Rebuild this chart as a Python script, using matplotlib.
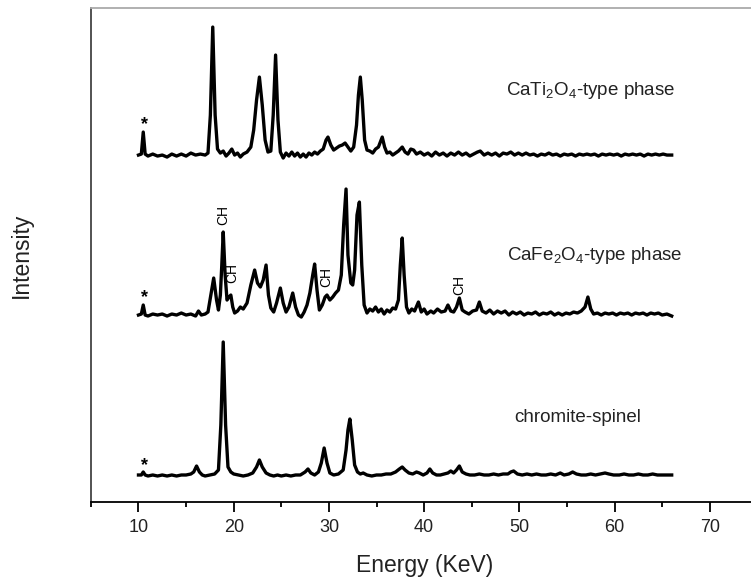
import numpy as np
import matplotlib.pyplot as plt

plt.rcParams['font.family'] = ['Liberation Sans', 'DejaVu Sans']
plt.rcParams['mathtext.fontset'] = 'custom'
plt.rcParams['mathtext.rm'] = 'Liberation Sans'
plt.rcParams['mathtext.it'] = 'Liberation Sans'

# chromite-spinel spectrum (energy keV, intensity above its baseline)
chromite_E = [10.0, 10.3, 10.5, 10.7, 11.0, 11.5, 12.0, 12.5, 13.0, 13.5, 14.0, 14.5, 15.0, 15.5, 15.8, 16.1,
              16.4, 16.7, 17.0, 17.5, 18.0, 18.4, 18.65, 18.9, 19.15, 19.4, 19.7, 20.0, 20.5, 21.0, 21.5, 22.0,
              22.4, 22.7, 23.0, 23.4, 23.8, 24.2, 24.6, 25.0, 25.5, 26.0, 26.5, 27.0, 27.5, 27.8, 28.1, 28.5,
              28.9, 29.2, 29.5, 29.8, 30.1, 30.5, 31.0, 31.5, 31.8, 32.0, 32.2, 32.45, 32.7, 33.0, 33.3, 33.6,
              34.0, 34.5, 35.0, 35.5, 36.0, 36.5, 37.0, 37.4, 37.7, 38.0, 38.4, 38.8, 39.2, 39.5, 39.9, 40.3,
              40.6, 40.9, 41.3, 41.7, 42.1, 42.5, 42.8, 43.1, 43.4, 43.7, 44.0, 44.4, 44.8, 45.3, 45.8, 46.3,
              46.8, 47.3, 47.8, 48.3, 48.8, 49.1, 49.4, 49.8, 50.3, 50.8, 51.3, 51.8, 52.3, 52.8, 53.3, 53.8,
              54.3, 54.7, 55.2, 55.6, 56.0, 56.5, 57.0, 57.5, 58.0, 58.5, 59.0, 59.4, 59.9, 60.5, 61.0, 61.5,
              62.0, 62.5, 63.0, 63.5, 64.0, 64.5, 65.0, 65.5, 66.0]
chromite_I = [0, 0, 3, 0, -1, 0, -1, 0, -1, 0, -1, 0, 0, 1, 3, 9,
              3, 0, -1, 0, 1, 5, 50, 133, 50, 8, 3, 1, 0, -1, 0, 2,
              8, 15, 8, 2, 0, -1, 0, -1, 0, -1, 0, 0, 3, 6, 2, 0,
              3, 12, 27, 12, 2, 0, 1, 5, 25, 45, 56, 35, 10, 3, 1, 2,
              0, -1, 0, 0, 1, 1, 3, 6, 8, 5, 2, 1, 3, 2, 0, 2,
              6, 2, 0, 0, 1, 2, 4, 2, 5, 9, 3, 1, 0, 0, 1, 0,
              0, 1, 0, 1, 1, 3, 4, 1, 0, 1, 0, 1, 0, 0, 1, 0,
              2, 0, 1, 3, 1, 0, 0, 1, 0, 1, 2, 1, 0, 0, 1, 0,
              0, 1, 0, 0, 1, 0, 0, 0, 0]

# CaFe2O4-type phase spectrum
cafe_E = [10.0, 10.3, 10.5, 10.7, 11.0, 11.5, 12.0, 12.5, 13.0, 13.5, 14.0, 14.5, 15.0, 15.5, 16.0, 16.3,
          16.6, 17.0, 17.3, 17.6, 17.9, 18.2, 18.4, 18.6, 18.75, 18.9, 19.1, 19.3, 19.5, 19.7, 19.9, 20.1,
          20.4, 20.7, 21.0, 21.4, 21.8, 22.2, 22.5, 22.8, 23.1, 23.4, 23.65, 23.9, 24.2, 24.5, 24.9, 25.2,
          25.5, 25.8, 26.2, 26.5, 26.8, 27.1, 27.4, 27.7, 28.0, 28.3, 28.5, 28.75, 29.0, 29.3, 29.6, 29.8,
          30.1, 30.4, 30.7, 31.0, 31.3, 31.55, 31.8, 32.0, 32.3, 32.5, 32.7, 32.95, 33.2, 33.45, 33.7, 34.0,
          34.3, 34.6, 34.9, 35.2, 35.5, 35.8, 36.1, 36.4, 36.7, 37.0, 37.3, 37.5, 37.7, 37.9, 38.15, 38.4,
          38.7, 39.0, 39.4, 39.7, 40.0, 40.3, 40.7, 41.0, 41.4, 41.8, 42.2, 42.5, 42.8, 43.1, 43.4, 43.7,
          44.0, 44.3, 44.7, 45.1, 45.5, 45.8, 46.1, 46.5, 46.9, 47.3, 47.7, 48.1, 48.5, 48.9, 49.3, 49.7,
          50.1, 50.5, 50.9, 51.3, 51.7, 52.1, 52.5, 52.9, 53.3, 53.7, 54.1, 54.5, 54.9, 55.3, 55.7, 56.1,
          56.5, 56.9, 57.2, 57.5, 57.8, 58.2, 58.6, 59.0, 59.4, 59.8, 60.2, 60.6, 61.0, 61.4, 61.8, 62.2,
          62.6, 63.0, 63.4, 63.8, 64.2, 64.6, 65.0, 65.5, 66.0]
cafe_I = [0, 1, 10, 0, -1, 1, 0, 1, -1, 1, 0, 2, 0, 1, -1, 4,
          0, 1, 3, 20, 37, 15, 5, 20, 50, 83, 40, 15, 18, 20, 8, 2,
          4, 8, 6, 12, 30, 45, 32, 28, 35, 50, 20, 7, 3, 12, 27, 12,
          3, 8, 22, 8, 0, -2, 3, 10, 22, 40, 51, 25, 5, 10, 18, 20,
          15, 18, 22, 25, 40, 90, 126, 60, 32, 30, 45, 100, 113, 50, 10, 2,
          6, 4, 8, 3, 6, 1, 5, 3, 7, 6, 15, 50, 77, 40, 8, 2,
          6, 4, 13, 3, 6, 1, 4, 2, 6, 3, 4, 10, 4, 3, 8, 17,
          5, 3, 1, 4, 5, 13, 4, 2, 5, 1, 4, 2, 4, 0, 3, 1,
          3, 0, 2, 1, 3, 0, 2, 1, 3, 0, 2, 0, 2, 1, 3, 2,
          4, 8, 18, 6, 1, 2, 0, 2, 1, 2, 0, 2, 1, 2, 0, 2,
          1, 2, 0, 2, 1, 2, 0, 1, -1]

# CaTi2O4-type phase spectrum
cati_E = [10.0, 10.3, 10.5, 10.7, 11.0, 11.5, 12.0, 12.5, 13.0, 13.5, 14.0, 14.5, 15.0, 15.5, 16.0, 16.5,
          17.0, 17.3, 17.55, 17.8, 18.05, 18.3, 18.6, 18.9, 19.2, 19.5, 19.8, 20.1, 20.4, 20.7, 21.0, 21.4,
          21.8, 22.1, 22.4, 22.7, 23.0, 23.3, 23.6, 23.9, 24.15, 24.4, 24.65, 24.9, 25.2, 25.5, 25.8, 26.1,
          26.4, 26.7, 27.0, 27.3, 27.6, 27.9, 28.2, 28.5, 28.8, 29.1, 29.4, 29.7, 29.9, 30.2, 30.5, 30.8,
          31.1, 31.4, 31.7, 32.0, 32.3, 32.6, 32.9, 33.1, 33.3, 33.5, 33.75, 34.0, 34.3, 34.6, 34.9, 35.2,
          35.4, 35.6, 35.85, 36.1, 36.4, 36.7, 37.0, 37.3, 37.7, 38.0, 38.3, 38.6, 38.9, 39.2, 39.6, 40.0,
          40.4, 40.8, 41.2, 41.6, 42.0, 42.4, 42.8, 43.2, 43.6, 44.0, 44.4, 44.8, 45.2, 45.6, 45.9, 46.3,
          46.7, 47.1, 47.5, 47.9, 48.3, 48.7, 49.1, 49.5, 49.9, 50.3, 50.7, 51.1, 51.5, 51.9, 52.3, 52.7,
          53.1, 53.5, 53.9, 54.3, 54.7, 55.1, 55.5, 55.9, 56.3, 56.7, 57.1, 57.5, 57.9, 58.3, 58.7, 59.1,
          59.5, 59.9, 60.3, 60.7, 61.1, 61.5, 61.9, 62.3, 62.7, 63.1, 63.5, 63.9, 64.3, 64.7, 65.1, 65.5,
          66.0]
cati_I = [0, 1, 23, 1, -1, 1, -1, 0, -2, 1, -1, 1, -1, 2, 0, 1,
          0, 2, 40, 128, 40, 6, 2, 4, -1, 2, 6, 0, 2, -2, 1, 3,
          8, 25, 55, 78, 50, 15, 3, 4, 40, 100, 35, 3, -3, 2, -1, 3,
          -1, 2, -2, 1, -2, 2, 0, 3, 1, 4, 6, 15, 18, 10, 5, 7,
          9, 10, 12, 8, 4, 8, 30, 60, 78, 55, 15, 5, 4, 2, 6, 8,
          13, 18, 8, 2, 3, 0, 2, 4, 8, 3, 1, 6, 5, 1, 3, 0,
          2, -1, 3, 0, 2, -1, 2, 0, 3, 0, 2, -1, 1, 3, 4, 0,
          2, 0, 2, -1, 2, 1, 3, 0, 2, 0, 2, 0, 1, -1, 1, 0,
          2, 0, 1, -1, 1, 0, 1, -1, 1, 0, 1, 0, 1, -1, 1, 0,
          1, 0, 1, -1, 1, 0, 1, 0, 1, -1, 1, 0, 1, 0, 1, 0,
          0]

offsets = [27, 187, 347]
phase_names = ['chromite-spinel', r'CaFe$_2$O$_4$-type phase', r'CaTi$_2$O$_4$-type phase']
name_pos = [(49.5, 85), (48.7, 247), (48.6, 412)]
star_pos = [(10.6, 36), (10.6, 204), (10.6, 377)]
ch_pos = [(18.9, 287), (19.9, 229), (29.7, 225), (43.7, 217)]

fig = plt.figure(figsize=(7.51, 5.77), dpi=100)
ax = fig.add_axes([0.121, 0.130, 0.8875, 0.856])

spectra = [(chromite_E, chromite_I), (cafe_E, cafe_I), (cati_E, cati_I)]
for (E, I), off in zip(spectra, offsets):
    ax.plot(E, np.array(I) + off, color='black', lw=2.4, solid_joinstyle='round')

for name, (x, y) in zip(phase_names, name_pos):
    ax.text(x, y, name, fontsize=13.5, ha='left', va='center', color='#222222')
for x, y in star_pos:
    ax.text(x, y, '*', fontsize=13, ha='center', va='center', fontweight='bold')
for x, y in ch_pos:
    ax.text(x, y, 'CH', fontsize=10, rotation=90, ha='center', va='center')

ax.set_xlim(5, 75)
ax.set_ylim(0, 494)
ax.set_xticks(range(10, 71, 10))
ax.set_xticks(range(5, 76, 10), minor=True)
ax.set_yticks([])
ax.tick_params(axis='x', which='major', direction='out', length=7, width=1.3, pad=5, labelsize=13,
               labelcolor='#222222')
ax.tick_params(axis='x', which='minor', direction='out', length=3.5, width=1.3)
ax.spines['right'].set_visible(False)
ax.spines['top'].set_color('#aaaaaa')
ax.spines['left'].set_color('#444444')
for s in ['top', 'left', 'bottom']:
    ax.spines[s].set_linewidth(1.3)
ax.set_xlabel('Energy (KeV)', fontsize=16.5, labelpad=13, color='#222222')
ax.set_ylabel('Intensity', fontsize=16.5, labelpad=42, color='#222222')

fig.savefig('out.png', dpi=100)
